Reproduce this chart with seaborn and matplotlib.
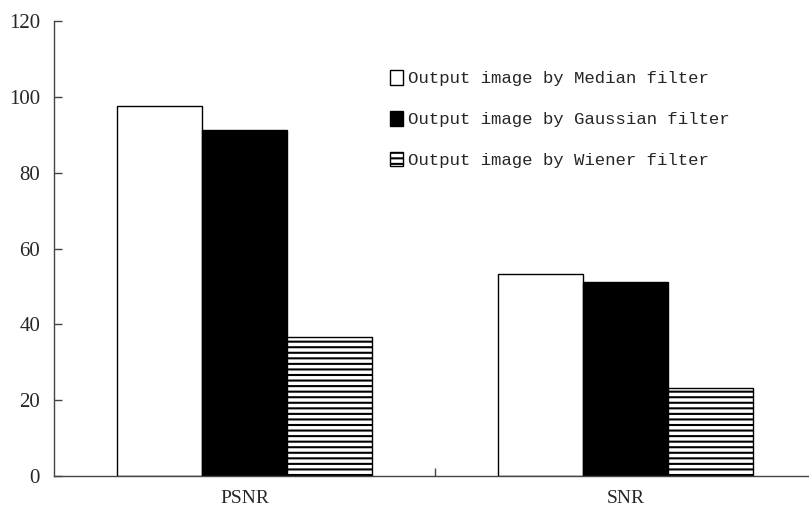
import pandas as pd
import numpy as np
import matplotlib
matplotlib.use("Agg")
import matplotlib.pyplot as plt
import seaborn as sns

# Data
metrics = ["PSNR", "SNR"]
filters = ["Output image by Median filter",
           "Output image by Gaussian filter",
           "Output image by Wiener filter"]
median_vals = [97.6, 53.3]
gaussian_vals = [91.3, 51.2]
wiener_vals = [36.7, 23.2]

df = pd.DataFrame({
    "metric": metrics * 3,
    "filter": [filters[0]] * 2 + [filters[1]] * 2 + [filters[2]] * 2,
    "value": median_vals + gaussian_vals + wiener_vals,
})

sns.set_style("white")
plt.rcParams["hatch.linewidth"] = 1.5
plt.rcParams["hatch.color"] = "black"

fig = plt.figure(figsize=(8.09, 5.20), dpi=100)
ax = fig.add_axes([54 / 809, 44 / 520, 762 / 809, 455 / 520])

sns.barplot(data=df, x="metric", y="value", hue="filter",
            palette=["white", "black", "white"], width=0.667,
            edgecolor="black", linewidth=1.0, saturation=1, ax=ax)

hatches = ["", "", "---"]
for cont, h in zip(ax.containers, hatches):
    for p in cont:
        p.set_hatch(h)
        p.set_edgecolor("black")

ax.set_xlim(-0.5, 1.5)
ax.set_ylim(0, 120)
ax.set_yticks(np.arange(0, 121, 20))
ax.set_xlabel("")
ax.set_ylabel("")

for s in ["top", "right"]:
    ax.spines[s].set_visible(False)
for s in ["left", "bottom"]:
    ax.spines[s].set_color("#444444")
    ax.spines[s].set_linewidth(1.0)

ax.tick_params(axis="y", left=True, direction="in", length=6, width=1,
               color="#444444", pad=10, labelsize=15)
ax.tick_params(axis="x", which="major", length=0, pad=10, labelsize=14)
ax.set_xticks([0.5], minor=True)
ax.tick_params(axis="x", which="minor", bottom=True, direction="in",
               length=6, width=1, color="#444444")
for lab in ax.get_yticklabels() + ax.get_xticklabels():
    lab.set_family("Liberation Serif")

handles = [cont[0] for cont in ax.containers]
ax.get_legend().remove()
fig.legend(handles, filters, loc="upper left",
           bbox_to_anchor=(390 / 809, 1 - 70 / 520), frameon=False,
           prop={"family": "Liberation Mono", "size": 12.5},
           handlelength=0.75, handleheight=0.95, handletextpad=0.3,
           labelspacing=1.4, borderpad=0, borderaxespad=0)

fig.savefig("out.png", dpi=100)
